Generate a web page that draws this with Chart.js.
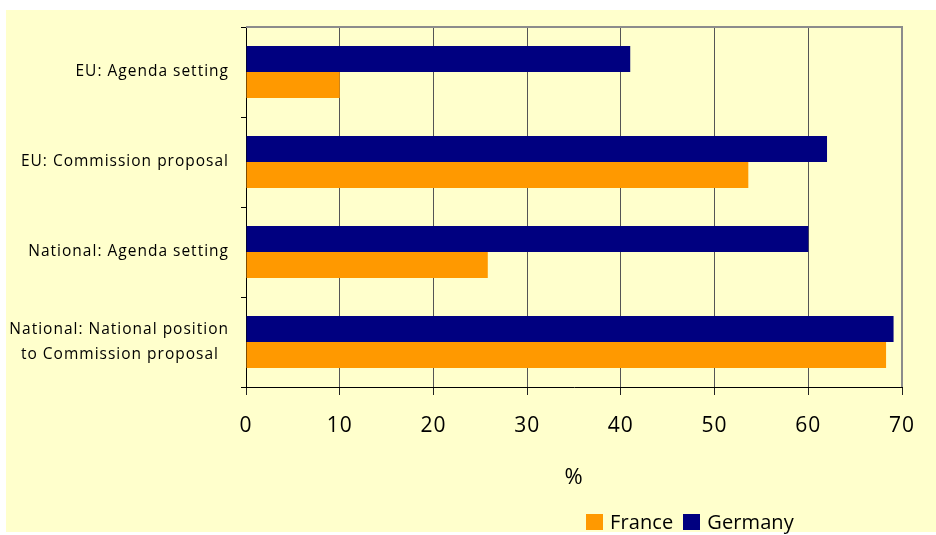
<!DOCTYPE html>
<html>
<head>
<meta charset="utf-8">
<script src="https://cdn.jsdelivr.net/npm/chart.js@4.4.1/dist/chart.umd.min.js"></script>
<style>
  body { margin: 0; background: #fff; font-family: "Open Sans", sans-serif; }
  #panel { position: absolute; left: 6px; top: 10px; width: 930px; height: 522px; background: #ffffcc; }
  #wrap { position: absolute; left: 0; top: 0; width: 936px; height: 535px; }
  #legend { position: absolute; left: 586px; top: 508px; font-size: 20px; letter-spacing: 0.1px; color: #000; white-space: nowrap; }
  #legend span.box { display: inline-block; width: 17px; height: 16px; vertical-align: -1px; margin-right: 7px; }
  #legend span.item { margin-right: 10px; }
</style>
</head>
<body>
<div id="panel"></div>
<div id="wrap"><canvas id="chart" width="936" height="535"></canvas></div>
<div id="legend"></div>
<script>
// categories, top to bottom
const categories = [
    "EU: Agenda setting",
    "EU: Commission proposal",
    "National: Agenda setting",
    ["National: National position", "to Commission proposal  "]
];
const germany = [41, 62, 60, 69.1];
const france = [10, 53.6, 25.8, 68.3];
const xTicks = [0, 10, 20, 30, 40, 50, 60, 70];

const navy = "#000080";
const orange = "#ff9900";

// wider letter spacing for canvas text (reset when the canvas is resized)
const spacing = {
    id: "spacing",
    beforeLayout(chart) { chart.ctx.letterSpacing = "1px"; },
    beforeDraw(chart) { chart.ctx.letterSpacing = "1px"; }
};

// grey frame on the top and right of the plot area
const frame = {
    id: "frame",
    beforeDatasetsDraw(chart) {
        const { ctx, chartArea: a } = chart;
        ctx.save();
        ctx.strokeStyle = "#8c8c8c";
        ctx.lineWidth = 2;
        ctx.beginPath();
        ctx.moveTo(a.left, a.top);
        ctx.lineTo(a.right, a.top);
        ctx.lineTo(a.right, a.bottom);
        ctx.stroke();
        ctx.restore();
    }
};

new Chart(document.getElementById("chart"), {
    type: "bar",
    data: {
        labels: categories,
        datasets: [
            { label: "Germany", data: germany, backgroundColor: navy },
            { label: "France", data: france, backgroundColor: orange }
        ]
    },
    options: {
        responsive: false,
        animation: false,
        indexAxis: "y",
        categoryPercentage: 0.578,
        barPercentage: 1,
        layout: { padding: { top: 27, right: 34, left: 0, bottom: 0 } },
        plugins: {
            legend: { display: false },
            tooltip: { enabled: false }
        },
        scales: {
            x: {
                min: 0,
                max: 70,
                afterBuildTicks(scale) { scale.ticks = xTicks.map(v => ({ value: v })); },
                afterFit(scale) { scale.height = 148; },
                grid: { color: "#555", tickColor: "#222", tickLength: 8 },
                border: { color: "#000" },
                ticks: { color: "#000", padding: 18, font: { family: "Open Sans", size: 21 } },
                title: {
                    display: true,
                    text: "%",
                    color: "#000",
                    font: { family: "Open Sans", size: 22 },
                    padding: { top: 0, bottom: 44 }
                }
            },
            y: {
                offset: true,
                afterFit(scale) {
                    scale.width = 246;
                    scale.paddingTop = 0;
                    scale.paddingBottom = 0;
                },
                grid: { drawOnChartArea: false, offset: true, color: "#000", tickLength: 5 },
                border: { color: "#000" },
                ticks: { color: "#000", padding: 12, font: { family: "Open Sans", size: 15.5, lineHeight: 1.65 } }
            }
        }
    },
    plugins: [spacing, frame]
});

// legend, France first
const legend = document.getElementById("legend");
[["France", orange], ["Germany", navy]].forEach(([name, col]) => {
    legend.insertAdjacentHTML("beforeend",
        '<span class="item"><span class="box" style="background:' + col + '"></span>' + name + '</span>');
});
</script>
</body>
</html>
